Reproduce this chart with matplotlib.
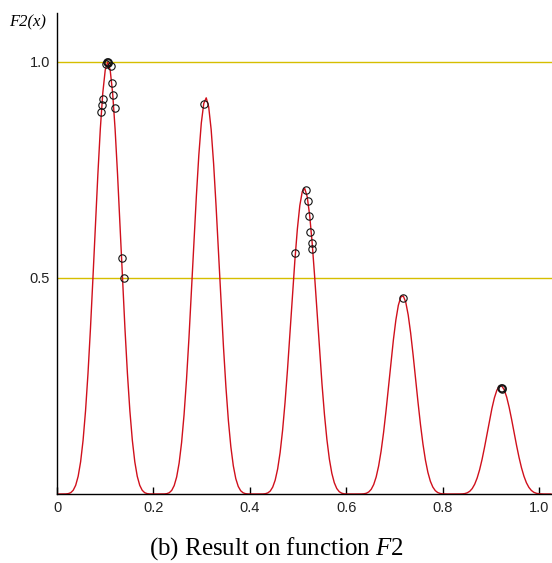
import numpy as np
import matplotlib.pyplot as plt

plt.rcParams['mathtext.fontset'] = 'custom'
plt.rcParams['mathtext.rm'] = 'Liberation Serif'
plt.rcParams['mathtext.it'] = 'Liberation Serif:italic'

curve_y = [
    0, 0, 0,
    0.0002, 0.0009, 0.0031, 0.0087, 0.0202, 0.0409, 0.0745, 0.1243, 0.1925, 0.2794,
    0.3832, 0.4994, 0.6210, 0.7394, 0.8448, 0.9282, 0.9816, 1.0000, 0.9816, 0.9282,
    0.8448, 0.7394, 0.6210, 0.4994, 0.3832, 0.2794, 0.1925, 0.1243, 0.0745, 0.0409,
    0.0202, 0.0087, 0.0031, 0.0009, 0.0002,
    0, 0, 0, 0, 0,
    0.0002, 0.0008, 0.0030, 0.0084, 0.0196, 0.0395, 0.0717, 0.1191, 0.1835, 0.2653,
    0.3622, 0.4700, 0.5819, 0.6898, 0.7849, 0.8585, 0.9040, 0.9170, 0.8962, 0.8438,
    0.7647, 0.6663, 0.5573, 0.4462, 0.3409, 0.2475, 0.1697, 0.1092, 0.0652, 0.0356,
    0.0175, 0.0075, 0.0027, 0.0007, 0.0001,
    0, 0, 0, 0, 0,
    0.0001, 0.0007, 0.0025, 0.0069, 0.0160, 0.0321, 0.0580, 0.0959, 0.1471, 0.2118,
    0.2879, 0.3720, 0.4586, 0.5412, 0.6131, 0.6678, 0.7001, 0.7071, 0.6881, 0.6450,
    0.5821, 0.5050, 0.4205, 0.3352, 0.2550, 0.1843, 0.1259, 0.0806, 0.0479, 0.0261,
    0.0127, 0.0054, 0.0019, 0.0005, 0.0001,
    0, 0, 0, 0, 0,
    0.0001, 0.0005, 0.0017, 0.0048, 0.0109, 0.0219, 0.0394, 0.0649, 0.0992, 0.1421,
    0.1924, 0.2475, 0.3039, 0.3571, 0.4028, 0.4368, 0.4560, 0.4585, 0.4443, 0.4146,
    0.3726, 0.3218, 0.2668, 0.2118, 0.1604, 0.1155, 0.0785, 0.0501, 0.0296, 0.0161,
    0.0078, 0.0033, 0.0012, 0.0003, 0.0001,
    0, 0, 0, 0, 0,
    0.0001, 0.0003, 0.0010, 0.0028, 0.0063, 0.0126, 0.0226, 0.0370, 0.0562, 0.0802,
    0.1082, 0.1385, 0.1693, 0.1981, 0.2225, 0.2402, 0.2497, 0.2500, 0.2412, 0.2241,
    0.2005, 0.1725, 0.1424, 0.1125, 0.0849, 0.0608, 0.0412, 0.0261, 0.0154, 0.0083,
    0.0040, 0.0017, 0.0006, 0.0002, 0,
    0, 0, 0,
]
# in the picture the curve is drawn slightly stretched against the axis labels
curve_x = np.linspace(0.003, 1.025, len(curve_y))

# population points (circles)
pts_x = [0.1017, 0.1040, 0.1068, 0.1060, 0.1114, 0.1131, 0.1162, 0.1203,
         0.0954, 0.0934, 0.0923, 0.1349, 0.1380,
         0.3056,
         0.5166, 0.5201, 0.5235, 0.5256, 0.5284, 0.5284, 0.4931,
         0.7185,
         0.9215, 0.9225, 0.9240]
pts_y = [0.9947, 0.9990, 1.0000, 0.9975, 0.9907, 0.9507, 0.9236, 0.8928,
         0.9132, 0.9005, 0.8850, 0.5456, 0.4993,
         0.9020,
         0.7037, 0.6790, 0.6435, 0.6065, 0.5818, 0.5664, 0.5572,
         0.4530,
         0.2450, 0.2446, 0.2430]

xticks = [0, 0.2, 0.4, 0.6, 0.8, 1.0]
xtick_labels = ['0', '0.2', '0.4', '0.6', '0.8', '1.0']
yticks = [0.5, 1.0]
ytick_labels = ['0.5', '1.0']

fig = plt.figure(figsize=(5.52, 5.63), dpi=100)
ax = fig.add_axes([57 / 552, 69 / 563, 1 - 57 / 552, 481 / 563])

for yv in yticks:
    ax.axhline(yv, color='#d6be00', lw=1.0, zorder=1)

ax.plot(curve_x, curve_y, color='#d0101c', lw=1.0, zorder=2)
ax.plot(pts_x, pts_y, linestyle='none', marker='o', ms=5.3, mfc='none',
        mec='#111111', mew=0.8, zorder=3)

ax.set_xlim(0, 1.027)
ax.set_ylim(0, 1.1134)

ax.spines['top'].set_visible(False)
ax.spines['right'].set_visible(False)
ax.spines['left'].set_linewidth(1.0)
ax.spines['bottom'].set_linewidth(1.0)

ax.set_xticks(xticks)
ax.set_xticklabels(xtick_labels, fontsize=10.5, family='Liberation Sans', color='#222222')
ax.set_yticks(yticks)
ax.set_yticklabels(ytick_labels, fontsize=10.5, family='Liberation Sans', color='#222222')
ax.tick_params(axis='x', direction='in', length=5, width=1, pad=5)
ax.tick_params(axis='y', length=0, pad=5)

fig.text(9 / 552, 1 - 22 / 563, 'F2(x)', fontsize=12, family='Liberation Serif',
         style='italic', va='center', ha='left')
fig.text(0.5, 1 - 549 / 563, '(b) Result on function $\\it{F2}$', fontsize=18,
         family='Liberation Serif', ha='center', va='center')

fig.savefig('out.png', dpi=100, facecolor='white')
